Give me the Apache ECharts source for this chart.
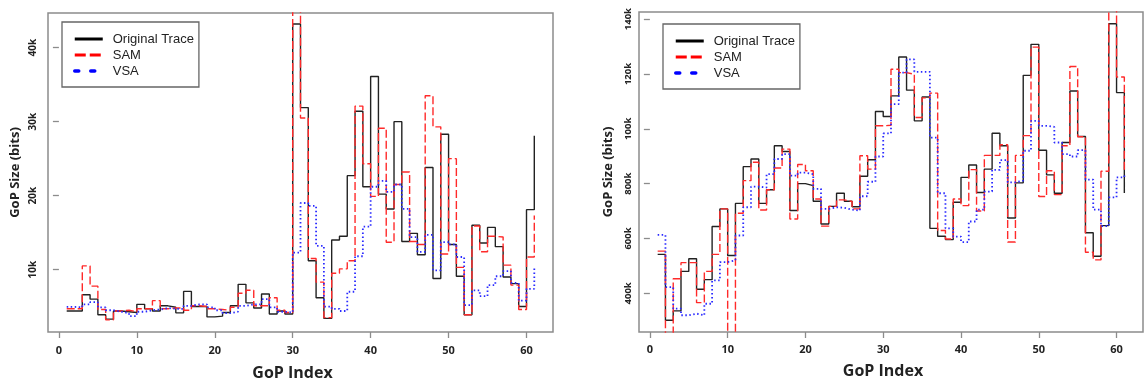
<!DOCTYPE html>
<html><head><meta charset="utf-8">
<script src="https://cdn.jsdelivr.net/npm/echarts@6/dist/echarts.min.js"></script>
<style>html,body{margin:0;padding:0;background:#fff}#c{width:1144px;height:386px}</style>
</head><body><div id="c"></div><script>
// ---------- data ----------
const gopIndex = [1,2,3,4,5,6,7,8,9,10,11,12,13,14,15,16,17,18,19,20,21,22,23,24,25,26,27,28,29,30,31,32,33,34,35,36,37,38,39,40,41,42,43,44,45,46,47,48,49,50,51,52,53,54,55,56,57,58,59,60,61];
const seriesNames = ['Original Trace', 'SAM', 'VSA'];

// Left panel (bits)
const leftOriginal = [4400,4400,6600,6000,3900,3300,4400,4300,4200,5300,4700,4400,5100,4900,4150,7050,5000,5000,3600,3700,4200,5100,8000,5500,4800,6700,4000,4400,4000,43200,31900,11200,6200,3400,14000,14500,22700,31400,21200,36100,20200,18200,30000,13800,14900,12000,23800,8800,28300,13400,9100,3900,16000,13600,15700,13100,9000,8100,5000,18100,28100];
const leftSAM = [4700,4700,10500,7760,4600,3200,4400,4500,4300,4700,4700,5800,4700,4800,4800,4500,5100,5000,4700,4600,4500,4900,6800,7200,5100,5100,6200,4500,4200,46000,30500,11500,8300,3500,9500,10100,11200,32100,24300,19900,29100,13700,21500,23200,13800,13400,33500,29300,12100,25000,10300,3900,15900,12400,14500,14400,10600,7900,4600,11700,17300];
const leftVSA = [4950,4900,5300,5600,4900,4500,4300,4100,3700,4300,4500,4600,4800,4700,4700,5100,5300,5300,4900,4500,4100,4300,5100,5300,5300,6000,4900,4300,4200,12300,19000,18600,13200,5000,4700,4400,7000,11800,15800,21200,22000,20500,21500,18200,14400,12400,14700,9900,13700,13400,11700,5200,7200,6400,7900,9100,9800,8200,5800,7400,10500];

// Right panel (bits)
const rightOriginal = [542000,302000,336000,480000,526000,415000,450000,644000,708000,538000,728000,862000,890000,728000,778000,938000,917000,702000,800000,793000,736000,653000,717000,765000,736000,716000,827000,887000,1063000,1045000,1120000,1262000,1141000,1029000,1116000,637000,608000,596000,732000,823000,868000,768000,853000,984000,938000,675000,803000,1195000,1308000,922000,832000,765000,950000,1138000,972000,621000,535000,647000,1383000,1132000,766000];
const rightSAM = [554000,250000,453000,512000,512000,366000,480000,542000,708000,250000,692000,811000,878000,704000,778000,857000,926000,671000,870000,847000,744000,645000,717000,741000,735000,708000,902000,853000,1011000,1013000,1217000,1205000,1199000,1041000,1113000,1130000,629000,598000,744000,720000,851000,700000,903000,903000,942000,587000,903000,975000,1298000,753000,847000,760000,938000,1227000,971000,550000,522000,845000,1450000,1189000,840000];
const rightVSA = [613000,423000,344000,320000,326000,320000,362000,447000,514000,520000,611000,714000,789000,786000,835000,890000,908000,829000,840000,835000,781000,708000,714000,712000,705000,702000,754000,807000,899000,983000,1090000,1205000,1253000,1208000,1208000,968000,765000,637000,607000,587000,662000,705000,771000,850000,886000,805000,811000,920000,1029000,1011000,1007000,950000,908000,899000,922000,815000,705000,645000,750000,823000,835000];

// Tick values and labels
const xTickValues = [0,10,20,30,40,50,60];
const leftYTickValues = [10000,20000,30000,40000];
const leftYTickLabels = ['10k','20k','30k','40k'];
const rightYTickValues = [400000,600000,800000,1000000,1200000,1400000];
const rightYTickLabels = ['400k','600k','800k','100k','120k','140k'];

// ---------- chart ----------
const axisFont = "'Open Sans', 'Liberation Sans', sans-serif";
const legendFont = "'Liberation Sans', Arial, sans-serif";
const boxColor = '#8c8c8c';
const textColor = '#222';

function pairs(vals) { return vals.map((v, i) => [gopIndex[i], v]); }

function xAxis(gi, gap, labelMargin) {
  return {
    gridIndex: gi, type: 'value', min: -1.4, max: 63.4,
    axisLine: { show: false }, splitLine: { show: false },
    axisTick: { show: true, length: 6, lineStyle: { color: boxColor, width: 1.3 }, customValues: xTickValues },
    axisLabel: { customValues: xTickValues, color: textColor, fontWeight: 'bold', fontSize: 11, fontFamily: axisFont, margin: labelMargin },
    name: 'GoP Index', nameLocation: 'middle', nameGap: gap,
    nameTextStyle: { color: textColor, fontWeight: 'bold', fontSize: 16, fontFamily: axisFont, padding: [0, 16, 0, 0] }
  };
}
function yAxis(gi, min, max, vals, labels, fs, labelMargin, gap) {
  return {
    gridIndex: gi, type: 'value', min: min, max: max,
    axisLine: { show: false }, splitLine: { show: false },
    axisTick: { show: true, length: 6, lineStyle: { color: boxColor, width: 1.3 }, customValues: vals },
    axisLabel: { customValues: vals, rotate: 90, color: textColor, fontWeight: 'bold', fontSize: fs, fontFamily: axisFont, margin: labelMargin,
      formatter: v => { const k = vals.indexOf(v); return k >= 0 ? labels[k] : ''; } },
    name: 'GoP Size (bits)', nameLocation: 'middle', nameGap: gap,
    nameTextStyle: { color: textColor, fontWeight: 'bold', fontSize: 13, fontFamily: axisFont }
  };
}
const lineStyles = [
  { color: '#222222', width: 1.4, type: 'solid' },
  { color: '#ff2a2a', width: 1.4, type: [8, 3] },
  { color: '#2a2aff', width: 1.8, type: [1.5, 2.5] }
];
const legendStyles = [
  { color: '#000', width: 3, type: 'solid' },
  { color: '#ff0000', width: 3, type: [11, 4] },
  { color: '#0000ff', width: 3.5, type: [4, 12], cap: 'round' }
];
function mkSeries(gi, arrays) {
  return arrays.map((arr, k) => ({
    name: seriesNames[k], type: 'line', step: 'end', symbol: 'none',
    xAxisIndex: gi, yAxisIndex: gi, data: pairs(arr),
    lineStyle: lineStyles[k], itemStyle: { color: lineStyles[k].color },
    emphasis: { disabled: true }, silent: true, animation: false, z: 2 + k
  }));
}
function legend(left, top) {
  return {
    orient: 'vertical', left: left, top: top, selectedMode: false,
    padding: [10, 5, 9, 11], itemGap: 2, itemWidth: 28, itemHeight: 14,
    borderColor: '#666', borderWidth: 1.3, backgroundColor: '#fff',
    textStyle: { fontFamily: legendFont, fontSize: 13, color: textColor, padding: [0, 0, 0, 5], lineHeight: 14 },
    itemStyle: { opacity: 0 },
    data: seriesNames.map((n, k) => ({ name: n, lineStyle: legendStyles[k], itemStyle: { opacity: 0 } }))
  };
}

const chart = echarts.init(document.getElementById('c'), null, { renderer: 'canvas' });
chart.setOption({
  animation: false,
  backgroundColor: '#fff',
  grid: [
    { left: 48, top: 13, width: 505, height: 322, show: true, borderColor: boxColor, borderWidth: 1.5, backgroundColor: 'transparent' },
    { left: 639, top: 12, width: 504, height: 320, show: true, borderColor: boxColor, borderWidth: 1.5, backgroundColor: 'transparent' }
  ],
  xAxis: [xAxis(0, 33, 13), xAxis(1, 31, 12)],
  yAxis: [
    yAxis(0, 1560, 44690, leftYTickValues, leftYTickLabels, 10, 10, 26),
    yAxis(1, 259000, 1426000, rightYTickValues, rightYTickLabels, 9.5, 6, 24)
  ],
  legend: [legend(62, 22), legend(663, 24)],
  series: [].concat(
    mkSeries(0, [leftOriginal, leftSAM, leftVSA]),
    mkSeries(1, [rightOriginal, rightSAM, rightVSA])
  )
});
</script></body></html>
